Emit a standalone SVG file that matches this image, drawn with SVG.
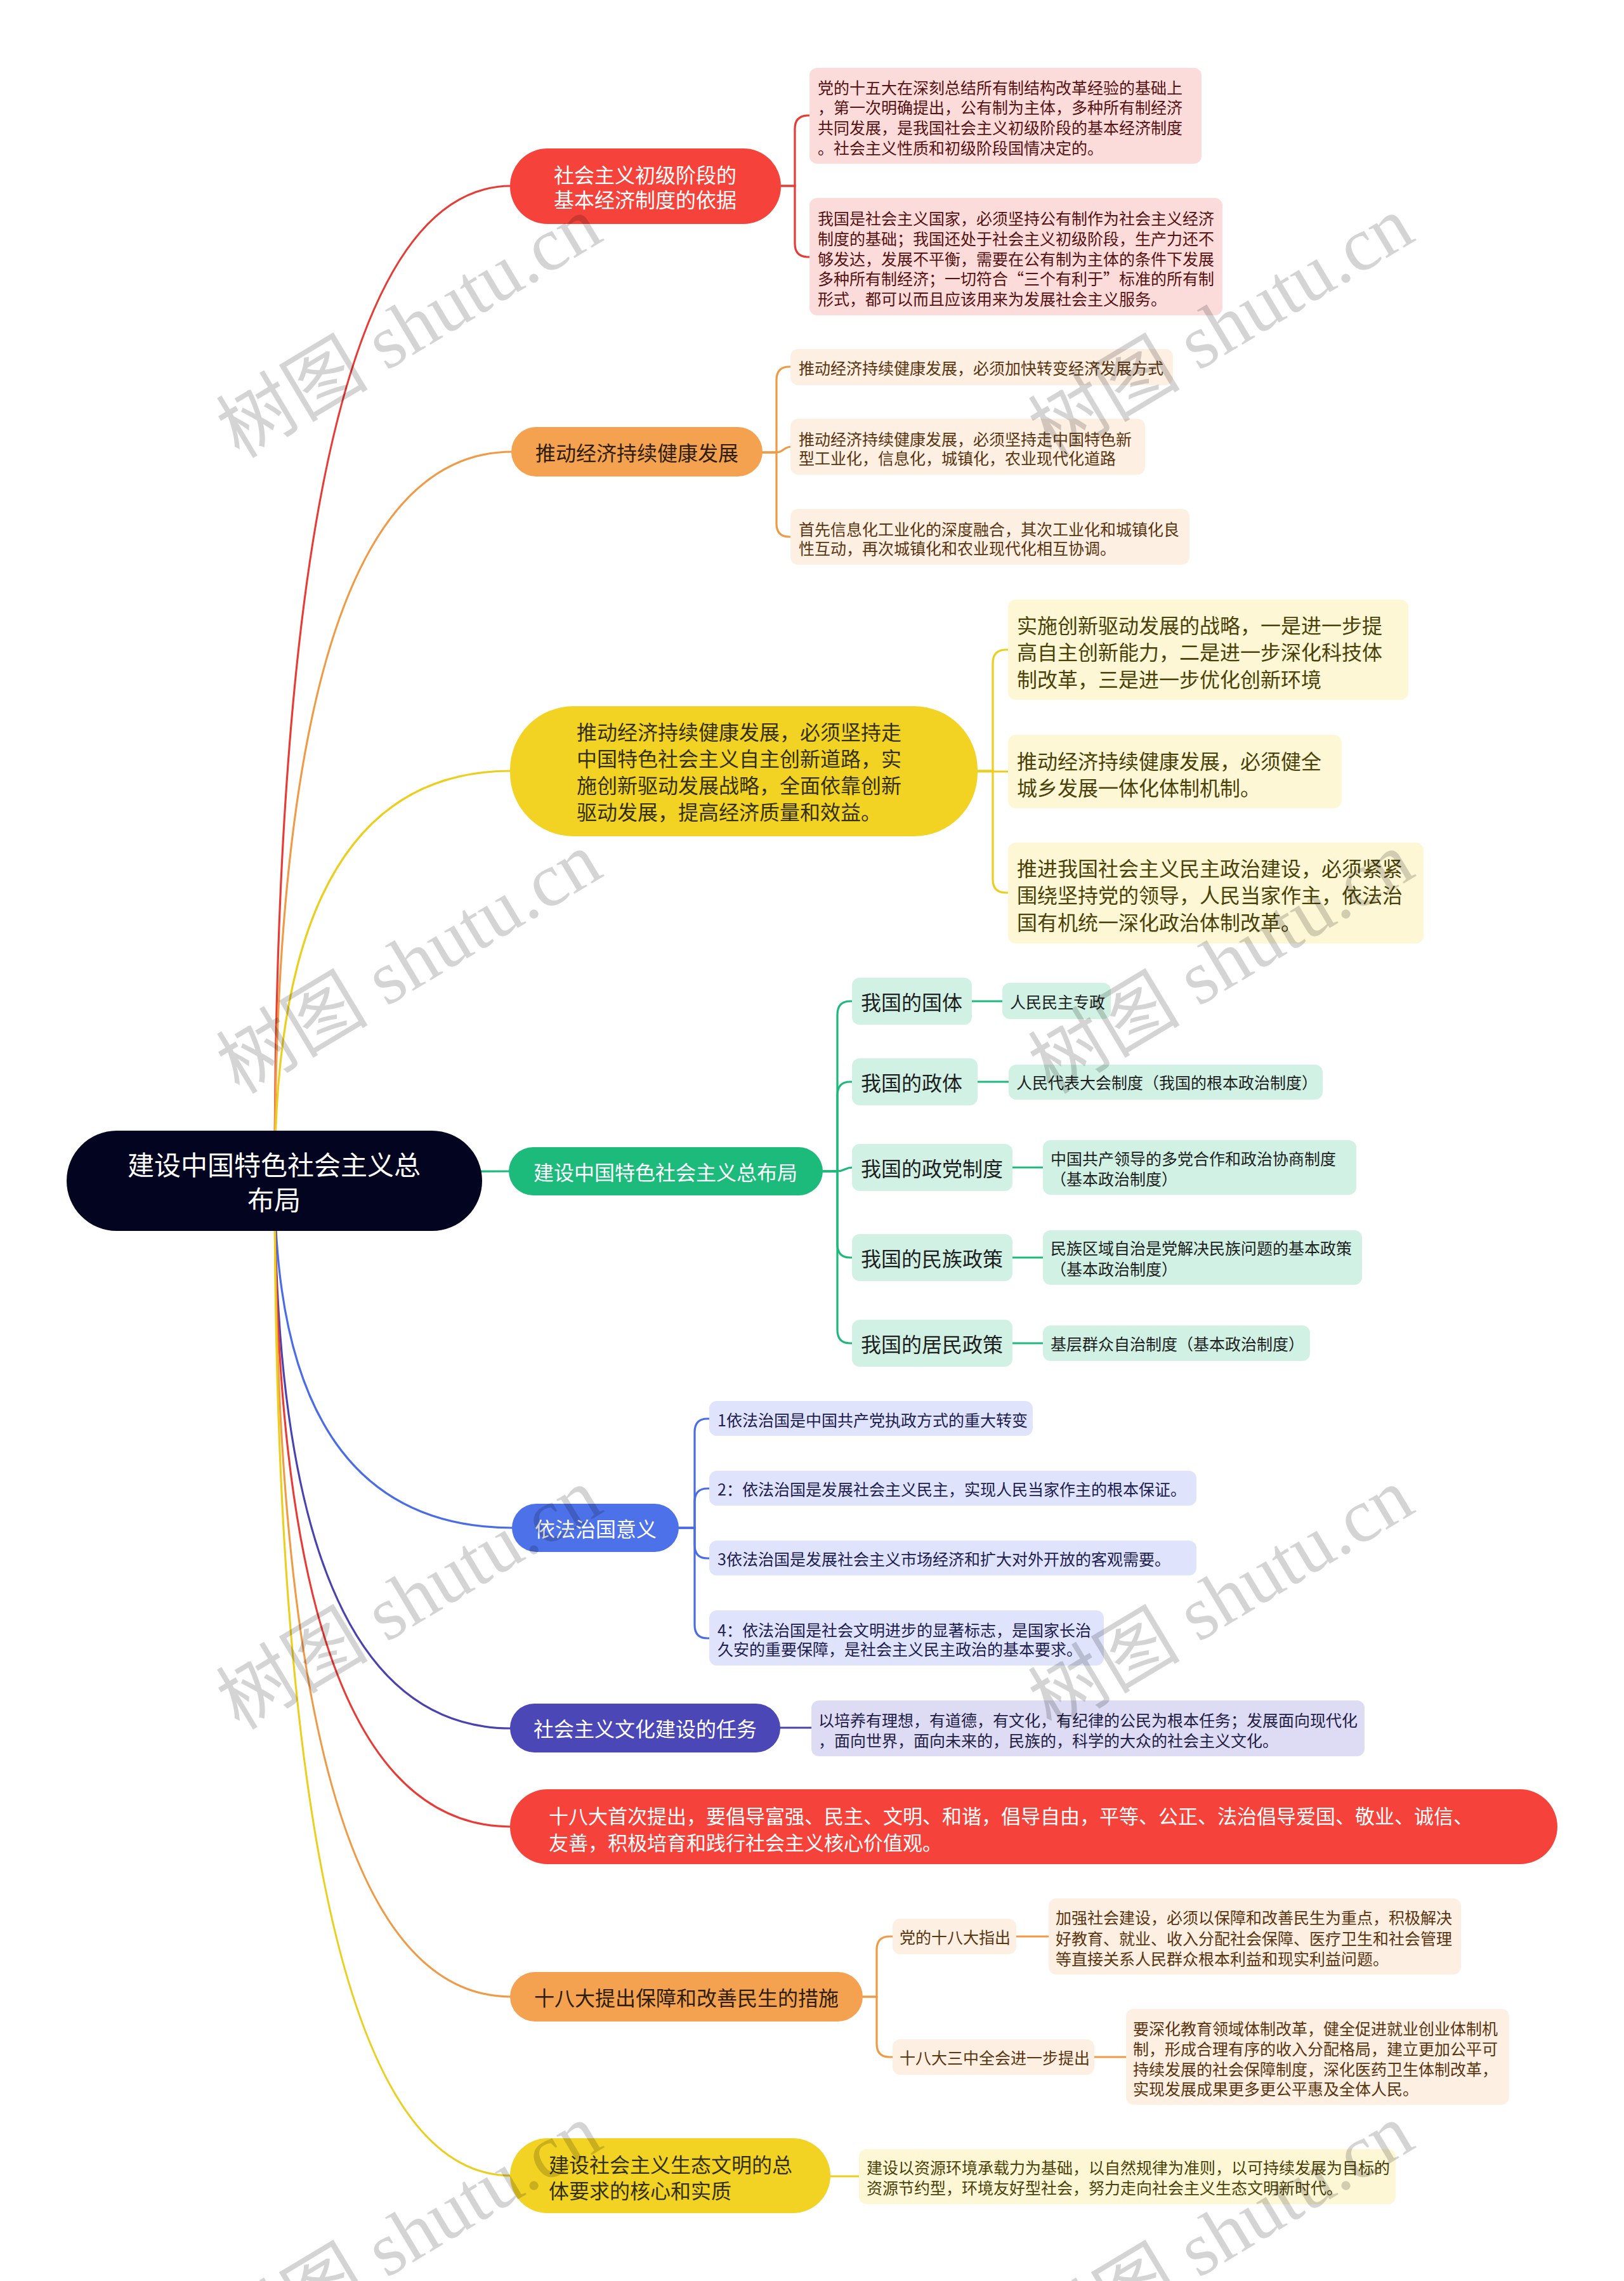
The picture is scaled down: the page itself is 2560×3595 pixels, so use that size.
<svg xmlns="http://www.w3.org/2000/svg" width="2560" height="3595" viewBox="0 0 2560 3595">
<style>
text{font-family:'Noto Sans CJK SC','Noto Sans',sans-serif;dominant-baseline:central}
.lk{fill:none;stroke-width:3.2;stroke-linecap:round}
.root{font-size:42px;fill:#ffffff}
.p{font-size:32px}
.l{font-size:25px}
.s{font-size:32px;fill:#1e1e1e}
.w{fill:#fff}
.mid{text-anchor:middle}
.wm{font-family:'Liberation Serif','Noto Sans CJK SC',serif;font-size:120px;fill:#000;fill-opacity:0.17;text-anchor:middle}
</style>
<rect width="2560" height="3595" fill="#ffffff"/>
<g id="connectors">
<path class="lk" stroke="#e83b35" d="M433 1860 Q433 293 806 293"/>
<path class="lk" stroke="#f09a45" d="M433 1860 Q433 712 808 712"/>
<path class="lk" stroke="#ecce1c" d="M433 1860 Q433 1215 806 1215"/>
<path class="lk" stroke="#1db97a" d="M433 1860 Q433 1846 804 1846"/>
<path class="lk" stroke="#4a6ce6" d="M433 1860 Q433 2408 809 2408"/>
<path class="lk" stroke="#4843b0" d="M433 1860 Q433 2724 806 2724"/>
<path class="lk" stroke="#e83b35" d="M433 1860 Q433 2879 806 2879"/>
<path class="lk" stroke="#f09a45" d="M433 1860 Q433 3147 806 3147"/>
<path class="lk" stroke="#ecce1c" d="M433 1860 Q433 3429 806 3429"/>
<g stroke="#e83b35" class="lk">
<path class="lk" d="M1231 293 H1253 V203 Q1253 182 1274 182 H1278"/>
<path class="lk" d="M1231 293 H1253 V384 Q1253 405 1274 405 H1278"/>
</g>
<g stroke="#f09a45">
<path class="lk" d="M1202 713 H1224 V599 Q1224 578 1244 578 H1248"/>
<path class="lk" d="M1202 713 H1224 C1235 713 1235 704 1248 704"/>
<path class="lk" d="M1202 713 H1224 V825 Q1224 846 1244 846 H1248"/>
</g>
<g stroke="#ecce1c">
<path class="lk" d="M1541 1215 H1565 V1045 Q1565 1024 1586 1024 H1591"/>
<path class="lk" d="M1541 1216 H1591"/>
<path class="lk" d="M1541 1215 H1565 V1386 Q1565 1407 1586 1407 H1591"/>
</g>
<g stroke="#1db97a">
<path class="lk" d="M1297 1846 H1320 V1599 Q1320 1578 1340 1578 H1345"/>
<path class="lk" d="M1297 1846 H1320 V1726 Q1320 1705 1340 1705 H1345"/>
<path class="lk" d="M1297 1846 H1320 C1331 1846 1331 1840 1345 1840"/>
<path class="lk" d="M1297 1846 H1320 V1961 Q1320 1982 1340 1982 H1345"/>
<path class="lk" d="M1297 1846 H1320 V2096 Q1320 2117 1340 2117 H1345"/>
<path class="lk" d="M1532 1578 H1582"/>
<path class="lk" d="M1541 1705 H1592"/>
<path class="lk" d="M1596 1840 H1646"/>
<path class="lk" d="M1596 1982 H1646"/>
<path class="lk" d="M1596 2117 H1646"/>
</g>
<g stroke="#4a6ce6">
<path class="lk" d="M1070 2408 H1095 V2257 Q1095 2236 1115 2236 H1120"/>
<path class="lk" d="M1070 2408 H1095 V2367 Q1095 2346 1115 2346 H1120"/>
<path class="lk" d="M1070 2408 H1095 V2435 Q1095 2456 1115 2456 H1120"/>
<path class="lk" d="M1070 2408 H1095 V2561 Q1095 2582 1115 2582 H1120"/>
</g>
<path class="lk" stroke="#4843b0" d="M1230 2723 H1281"/>
<g stroke="#f09a45">
<path class="lk" d="M1360 3147 H1382 V3073 Q1382 3052 1402 3052 H1409"/>
<path class="lk" d="M1360 3147 H1382 V3221 Q1382 3242 1402 3242 H1409"/>
<path class="lk" d="M1602 3052 H1653"/>
<path class="lk" d="M1725 3242 H1777"/>
</g>
<path class="lk" stroke="#ecce1c" d="M1309 3430 H1356"/>
</g>

<g id="root">
<rect x="105" y="1782" width="655" height="158" rx="79" fill="#03041f"/>
<text class="root mid" x="432" y="1833">建设中国特色社会主义总</text>
<text class="root mid" x="432" y="1888">布局</text>
</g>

<g id="b1">
<rect x="804" y="234" width="427" height="119" rx="59" fill="#f5433c"/>
<text class="p w mid" x="1017" y="274">社会主义初级阶段的</text>
<text class="p w mid" x="1017" y="313">基本经济制度的依据</text>
</g>
<g id="b1a">
<rect x="1276" y="107" width="618" height="151" rx="12" fill="#fcdcdb"/>
<text class="l" fill="#561212" x="1289" y="137">党的十五大在深刻总结所有制结构改革经验的基础上</text>
<text class="l" fill="#561212" x="1289" y="168">，第一次明确提出，公有制为主体，多种所有制经济</text>
<text class="l" fill="#561212" x="1289" y="200">共同发展，是我国社会主义初级阶段的基本经济制度</text>
<text class="l" fill="#561212" x="1289" y="232">。社会主义性质和初级阶段国情决定的。</text>
</g>
<g id="b1b">
<rect x="1276" y="312" width="651" height="185" rx="12" fill="#fcdcdb"/>
<text class="l" fill="#561212" x="1289" y="343">我国是社会主义国家，必须坚持公有制作为社会主义经济</text>
<text class="l" fill="#561212" x="1289" y="375">制度的基础；我国还处于社会主义初级阶段，生产力还不</text>
<text class="l" fill="#561212" x="1289" y="407">够发达，发展不平衡，需要在公有制为主体的条件下发展</text>
<text class="l" fill="#561212" x="1289" y="438">多种所有制经济；一切符合“三个有利于”标准的所有制</text>
<text class="l" fill="#561212" x="1289" y="470">形式，都可以而且应该用来为发展社会主义服务。</text>
</g>

<g id="b2">
<rect x="806" y="673" width="396" height="78" rx="39" fill="#f4a250"/>
<text class="p mid" fill="#2e1d08" x="1004" y="712">推动经济持续健康发展</text>
</g>
<g id="b2a">
<rect x="1246" y="550" width="603" height="57" rx="12" fill="#fdefe2"/>
<text class="l" fill="#5a3510" x="1259" y="579">推动经济持续健康发展，必须加快转变经济发展方式</text>
</g>
<g id="b2b">
<rect x="1246" y="660" width="559" height="88" rx="12" fill="#fdefe2"/>
<text class="l" fill="#5a3510" x="1259" y="691">推动经济持续健康发展，必须坚持走中国特色新</text>
<text class="l" fill="#5a3510" x="1259" y="721">型工业化，信息化，城镇化，农业现代化道路</text>
</g>
<g id="b2c">
<rect x="1246" y="802" width="629" height="88" rx="12" fill="#fdefe2"/>
<text class="l" fill="#5a3510" x="1259" y="833">首先信息化工业化的深度融合，其次工业化和城镇化良</text>
<text class="l" fill="#5a3510" x="1259" y="863">性互动，再次城镇化和农业现代化相互协调。</text>
</g>

<g id="b3">
<rect x="804" y="1113" width="737" height="205" rx="100" fill="#f2d323"/>
<text class="p" fill="#34300a" x="909" y="1152">推动经济持续健康发展，必须坚持走</text>
<text class="p" fill="#34300a" x="909" y="1194">中国特色社会主义自主创新道路，实</text>
<text class="p" fill="#34300a" x="909" y="1236">施创新驱动发展战略，全面依靠创新</text>
<text class="p" fill="#34300a" x="909" y="1278">驱动发展，提高经济质量和效益。</text>
</g>
<g id="b3a">
<rect x="1589" y="945" width="631" height="158" rx="12" fill="#fdf7d5"/>
<text class="p" fill="#4a4208" x="1603" y="984">实施创新驱动发展的战略，一是进一步提</text>
<text class="p" fill="#4a4208" x="1603" y="1026">高自主创新能力，二是进一步深化科技体</text>
<text class="p" fill="#4a4208" x="1603" y="1069">制改革，三是进一步优化创新环境</text>
</g>
<g id="b3b">
<rect x="1589" y="1158" width="526" height="116" rx="12" fill="#fdf7d5"/>
<text class="p" fill="#4a4208" x="1603" y="1198">推动经济持续健康发展，必须健全</text>
<text class="p" fill="#4a4208" x="1603" y="1240">城乡发展一体化体制机制。</text>
</g>
<g id="b3c">
<rect x="1589" y="1328" width="655" height="159" rx="12" fill="#fdf7d5"/>
<text class="p" fill="#4a4208" x="1603" y="1367">推进我国社会主义民主政治建设，必须紧紧</text>
<text class="p" fill="#4a4208" x="1603" y="1409">围绕坚持党的领导，人民当家作主，依法治</text>
<text class="p" fill="#4a4208" x="1603" y="1452">国有机统一深化政治体制改革。</text>
</g>

<g id="b4">
<rect x="802" y="1808" width="495" height="76" rx="38" fill="#1dbb7b"/>
<text class="p w mid" x="1049" y="1846">建设中国特色社会主义总布局</text>
</g>
<g id="b4s1">
<rect x="1343" y="1541" width="189" height="74" rx="12" fill="#d0f1e3"/>
<text class="s" x="1357" y="1578">我国的国体</text>
</g>
<g id="b4s2">
<rect x="1343" y="1668" width="198" height="74" rx="12" fill="#d0f1e3"/>
<text class="s" x="1357" y="1705">我国的政体</text>
</g>
<g id="b4s3">
<rect x="1343" y="1803" width="253" height="74" rx="12" fill="#d0f1e3"/>
<text class="s" x="1357" y="1840">我国的政党制度</text>
</g>
<g id="b4s4">
<rect x="1343" y="1945" width="253" height="74" rx="12" fill="#d0f1e3"/>
<text class="s" x="1357" y="1982">我国的民族政策</text>
</g>
<g id="b4s5">
<rect x="1343" y="2080" width="253" height="74" rx="12" fill="#d0f1e3"/>
<text class="s" x="1357" y="2117">我国的居民政策</text>
</g>
<g id="b4l1">
<rect x="1580" y="1549" width="171" height="57" rx="12" fill="#d0f1e3"/>
<text class="l" fill="#1e1e1e" x="1592" y="1578">人民民主专政</text>
</g>
<g id="b4l2">
<rect x="1590" y="1678" width="495" height="55" rx="12" fill="#d0f1e3"/>
<text class="l" fill="#1e1e1e" x="1602" y="1705">人民代表大会制度（我国的根本政治制度）</text>
</g>
<g id="b4l3">
<rect x="1644" y="1797" width="494" height="86" rx="12" fill="#d0f1e3"/>
<text class="l" fill="#1e1e1e" x="1656" y="1825">中国共产领导的多党合作和政治协商制度</text>
<text class="l" fill="#1e1e1e" x="1656" y="1857">（基本政治制度）</text>
</g>
<g id="b4l4">
<rect x="1644" y="1939" width="503" height="86" rx="12" fill="#d0f1e3"/>
<text class="l" fill="#1e1e1e" x="1656" y="1966">民族区域自治是党解决民族问题的基本政策</text>
<text class="l" fill="#1e1e1e" x="1656" y="1999">（基本政治制度）</text>
</g>
<g id="b4l5">
<rect x="1644" y="2089" width="421" height="56" rx="12" fill="#d0f1e3"/>
<text class="l" fill="#1e1e1e" x="1656" y="2117">基层群众自治制度（基本政治制度）</text>
</g>

<g id="b5">
<rect x="807" y="2370" width="263" height="76" rx="38" fill="#4d71e8"/>
<text class="p w mid" x="939" y="2408">依法治国意义</text>
</g>
<g id="b5a">
<rect x="1118" y="2208" width="510" height="55" rx="12" fill="#dfe4fc"/>
<text class="l" fill="#1d2050" x="1131" y="2237">1依法治国是中国共产党执政方式的重大转变</text>
</g>
<g id="b5b">
<rect x="1118" y="2318" width="768" height="55" rx="12" fill="#dfe4fc"/>
<text class="l" fill="#1d2050" x="1131" y="2346">2：依法治国是发展社会主义民主，实现人民当家作主的根本保证。</text>
</g>
<g id="b5c">
<rect x="1118" y="2428" width="768" height="55" rx="12" fill="#dfe4fc"/>
<text class="l" fill="#1d2050" x="1131" y="2456">3依法治国是发展社会主义市场经济和扩大对外开放的客观需要。</text>
</g>
<g id="b5d">
<rect x="1118" y="2538" width="622" height="87" rx="12" fill="#dfe4fc"/>
<text class="l" fill="#1d2050" x="1131" y="2568">4：依法治国是社会文明进步的显著标志，是国家长治</text>
<text class="l" fill="#1d2050" x="1131" y="2598">久安的重要保障，是社会主义民主政治的基本要求。</text>
</g>

<g id="b6">
<rect x="804" y="2685" width="426" height="77" rx="38" fill="#4c47b6"/>
<text class="p w mid" x="1017" y="2723">社会主义文化建设的任务</text>
</g>
<g id="b6a">
<rect x="1279" y="2680" width="872" height="88" rx="12" fill="#dddcf4"/>
<text class="l" fill="#222044" x="1290" y="2710">以培养有理想，有道德，有文化，有纪律的公民为根本任务；发展面向现代化</text>
<text class="l" fill="#222044" x="1290" y="2742">，面向世界，面向未来的，民族的，科学的大众的社会主义文化。</text>
</g>

<g id="b7">
<rect x="804" y="2820" width="1651" height="118" rx="59" fill="#f5433c"/>
<text class="w" style="font-size:31px" x="865" y="2860">十八大首次提出，要倡导富强、民主、文明、和谐，倡导自由，平等、公正、法治倡导爱国、敬业、诚信、</text>
<text class="w" style="font-size:31px" x="865" y="2902">友善，积极培育和践行社会主义核心价值观。</text>
</g>

<g id="b8">
<rect x="804" y="3108" width="556" height="78" rx="39" fill="#f4a250"/>
<text class="p mid" fill="#2e1d08" x="1082" y="3147">十八大提出保障和改善民生的措施</text>
</g>
<g id="b8s1">
<rect x="1407" y="3024" width="195" height="56" rx="12" fill="#fdefe2"/>
<text class="l" fill="#5a3510" x="1418" y="3052">党的十八大指出</text>
</g>
<g id="b8s2">
<rect x="1407" y="3214" width="318" height="56" rx="12" fill="#fdefe2"/>
<text class="l" fill="#5a3510" x="1418" y="3242">十八大三中全会进一步提出</text>
</g>
<g id="b8l1">
<rect x="1653" y="2992" width="650" height="120" rx="12" fill="#fdefe2"/>
<text class="l" fill="#5a3510" x="1664" y="3021">加强社会建设，必须以保障和改善民生为重点，积极解决</text>
<text class="l" fill="#5a3510" x="1664" y="3054">好教育、就业、收入分配社会保障、医疗卫生和社会管理</text>
<text class="l" fill="#5a3510" x="1664" y="3086">等直接关系人民群众根本利益和现实利益问题。</text>
</g>
<g id="b8l2">
<rect x="1775" y="3166" width="604" height="151" rx="12" fill="#fdefe2"/>
<text class="l" fill="#5a3510" x="1786" y="3196">要深化教育领域体制改革，健全促进就业创业体制机</text>
<text class="l" fill="#5a3510" x="1786" y="3228">制，形成合理有序的收入分配格局，建立更加公平可</text>
<text class="l" fill="#5a3510" x="1786" y="3260">持续发展的社会保障制度，深化医药卫生体制改革，</text>
<text class="l" fill="#5a3510" x="1786" y="3291">实现发展成果更多更公平惠及全体人民。</text>
</g>

<g id="b9">
<rect x="804" y="3370" width="505" height="118" rx="59" fill="#f2d323"/>
<text class="p" fill="#34300a" x="865" y="3410">建设社会主义生态文明的总</text>
<text class="p" fill="#34300a" x="865" y="3451">体要求的核心和实质</text>
</g>
<g id="b9a">
<rect x="1354" y="3387" width="846" height="87" rx="12" fill="#fdf7d5"/>
<text class="l" fill="#4a4208" x="1366" y="3415">建设以资源环境承载力为基础，以自然规律为准则，以可持续发展为目标的</text>
<text class="l" fill="#4a4208" x="1366" y="3447">资源节约型，环境友好型社会，努力走向社会主义生态文明新时代。</text>
</g>

<g id="watermarks">
<text class="wm" transform="translate(645 516) rotate(-31)">树图 shutu.cn</text>
<text class="wm" transform="translate(1925 516) rotate(-31)">树图 shutu.cn</text>
<text class="wm" transform="translate(645 1518) rotate(-31)">树图 shutu.cn</text>
<text class="wm" transform="translate(1925 1518) rotate(-31)">树图 shutu.cn</text>
<text class="wm" transform="translate(645 2520) rotate(-31)">树图 shutu.cn</text>
<text class="wm" transform="translate(1925 2520) rotate(-31)">树图 shutu.cn</text>
<text class="wm" transform="translate(645 3522) rotate(-31)">树图 shutu.cn</text>
<text class="wm" transform="translate(1925 3522) rotate(-31)">树图 shutu.cn</text>
</g>
</svg>
